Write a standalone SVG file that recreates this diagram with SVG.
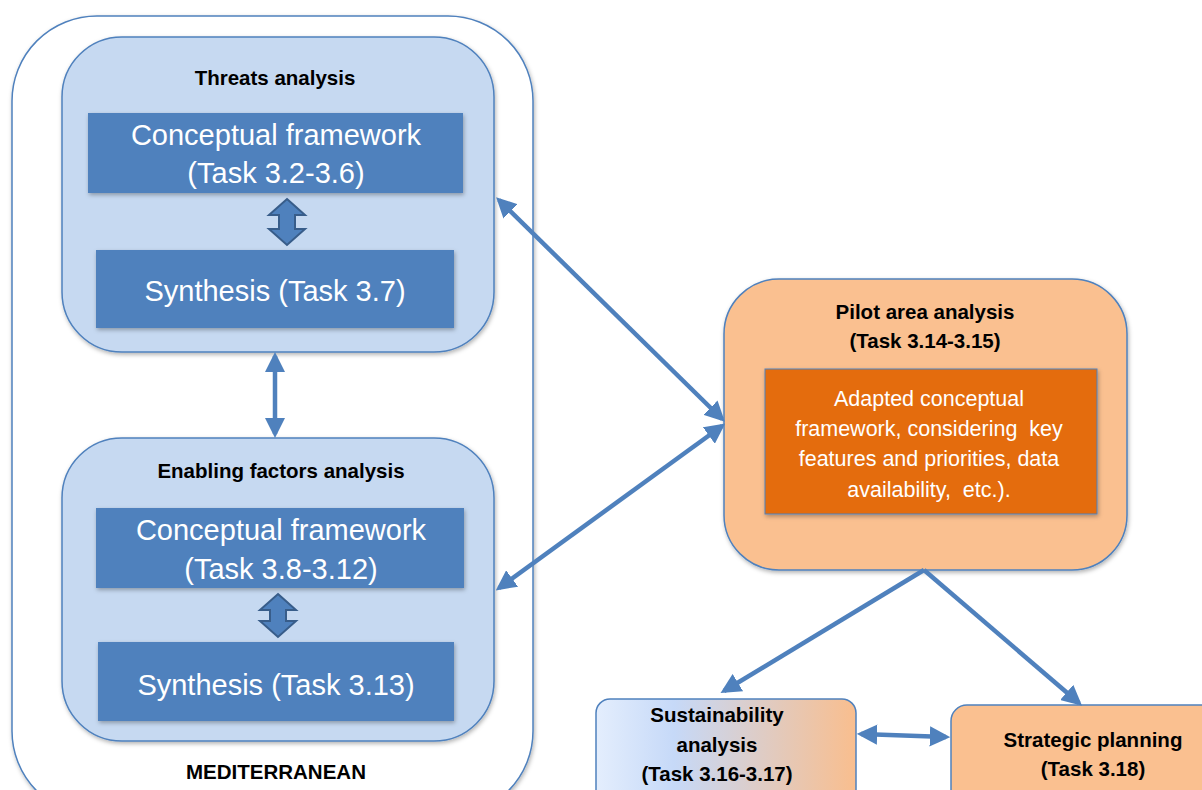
<svg xmlns="http://www.w3.org/2000/svg" width="1202" height="790" viewBox="0 0 1202 790">
<style>
.cont{fill:#c6d9f1;stroke:#4f81bd;stroke-width:1.5}
.blue{fill:#4f81bd}
.t{font-family:"Liberation Sans",Arial,sans-serif;text-anchor:middle}
.b{font-weight:bold;fill:#000;font-size:20.5px}
.w{fill:#fff;font-size:29px}
.ws{fill:#fff;font-size:21.5px;white-space:pre}
.conn{stroke:#4f81bd;stroke-width:4.5;fill:none}
.blk{fill:#4f81bd;stroke:#385d8a;stroke-width:2}
</style>
<defs>
<filter id="sh" x="-10%" y="-10%" width="120%" height="120%">
<feDropShadow dx="1" dy="2" stdDeviation="2" flood-color="#000" flood-opacity="0.3"/>
</filter>
<marker id="ah" viewBox="0 0 10 10" refX="8" refY="5" markerWidth="4.5" markerHeight="4.5" orient="auto-start-reverse" markerUnits="strokeWidth">
<path d="M0,0 L10,5 L0,10 z" fill="#4f81bd"/>
</marker>
<linearGradient id="gr" x1="0" y1="0" x2="1" y2="0">
<stop offset="0" stop-color="#e4eefd"/>
<stop offset="0.3" stop-color="#c6d9f8"/>
<stop offset="1" stop-color="#f9be8e"/>
</linearGradient>
</defs>

<g id="mediterranean">
<rect x="12" y="16" width="521" height="800" rx="85" ry="85" fill="#fff" stroke="#4f81bd" stroke-width="1.5" filter="url(#sh)"/>
<text class="t b" x="276" y="779">MEDITERRANEAN</text>
</g>

<g id="threats">
<rect class="cont" x="62" y="37" width="432" height="315" rx="60" ry="60" filter="url(#sh)"/>
<text class="t b" x="275" y="85">Threats analysis</text>
<rect class="blue" x="88" y="113" width="375" height="80" filter="url(#sh)"/>
<text class="t w" x="276" y="145">Conceptual framework</text>
<text class="t w" x="276" y="183">(Task 3.2-3.6)</text>
<path class="blk" d="M287,199 L305,215 L295,215 L295,229 L305,229 L287,245 L269,229 L279,229 L279,215 L269,215 Z"/>
<rect class="blue" x="96" y="250" width="358" height="78" filter="url(#sh)"/>
<text class="t w" x="275" y="301">Synthesis (Task 3.7)</text>
</g>

<g id="enabling">
<rect class="cont" x="62" y="438" width="432" height="303" rx="60" ry="60" filter="url(#sh)"/>
<text class="t b" x="281" y="478">Enabling factors analysis</text>
<rect class="blue" x="96" y="508" width="368" height="80" filter="url(#sh)"/>
<text class="t w" x="281" y="540">Conceptual framework</text>
<text class="t w" x="281" y="579">(Task 3.8-3.12)</text>
<path class="blk" d="M278,594 L296,610 L286,610 L286,621 L296,621 L278,637 L260,621 L270,621 L270,610 L260,610 Z"/>
<rect class="blue" x="98" y="642" width="356" height="79" filter="url(#sh)"/>
<text class="t w" x="276" y="695">Synthesis (Task 3.13)</text>
</g>

<g id="pilot">
<rect x="724" y="279" width="403" height="291" rx="55" ry="55" fill="#fac090" stroke="#4f81bd" stroke-width="1.5" filter="url(#sh)"/>
<text class="t b" x="925" y="319">Pilot area analysis</text>
<text class="t b" x="925" y="348">(Task 3.14-3.15)</text>
<rect x="765" y="369" width="332" height="145" fill="#e46c0a" stroke="#4f81bd" stroke-width="1" filter="url(#sh)"/>
<text class="t ws" x="929" y="406">Adapted conceptual</text>
<text class="t ws" x="929" y="436" xml:space="preserve">framework, considering  key</text>
<text class="t ws" x="929" y="466">features and priorities, data</text>
<text class="t ws" x="929" y="497" xml:space="preserve">availability,  etc.).</text>
</g>

<g id="sustainability">
<rect x="596" y="699" width="260" height="110" rx="14" ry="14" fill="url(#gr)" stroke="#4f81bd" stroke-width="1.5"/>
<text class="t b" x="717" y="722">Sustainability</text>
<text class="t b" x="717" y="752">analysis</text>
<text class="t b" x="717" y="781">(Task 3.16-3.17)</text>
</g>

<g id="strategic">
<rect x="951" y="705" width="270" height="110" rx="16" ry="16" fill="#fac090" stroke="#4f81bd" stroke-width="1.5"/>
<text class="t b" x="1093" y="747">Strategic planning</text>
<text class="t b" x="1093" y="776">(Task 3.18)</text>
</g>

<g id="connectors">
<line class="conn" x1="275" y1="356" x2="275" y2="434" marker-start="url(#ah)" marker-end="url(#ah)"/>
<line class="conn" x1="499" y1="200" x2="722" y2="419" marker-start="url(#ah)" marker-end="url(#ah)"/>
<line class="conn" x1="499" y1="588" x2="722" y2="426" marker-start="url(#ah)" marker-end="url(#ah)"/>
<line class="conn" x1="924" y1="570" x2="724" y2="691" marker-end="url(#ah)"/>
<line class="conn" x1="924" y1="570" x2="1079" y2="703" marker-end="url(#ah)"/>
<line class="conn" x1="861" y1="734" x2="946" y2="737" marker-start="url(#ah)" marker-end="url(#ah)"/>
</g>
</svg>
